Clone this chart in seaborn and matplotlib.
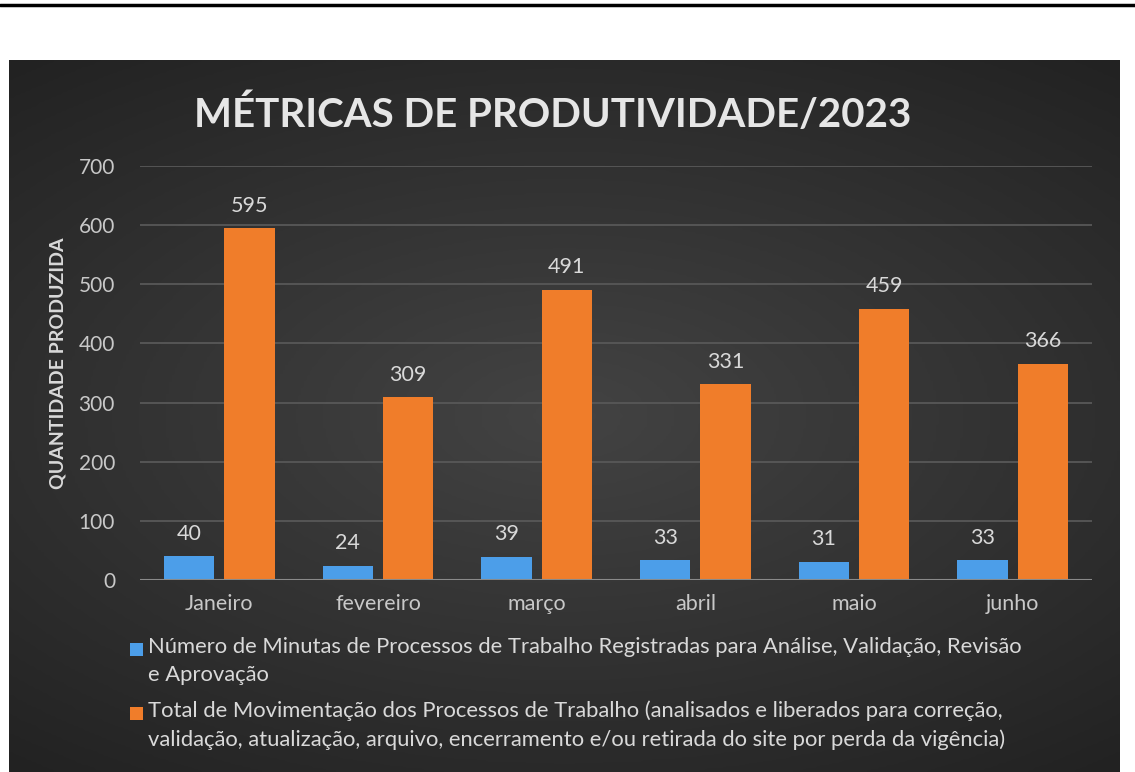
import numpy as np
import pandas as pd
import matplotlib
matplotlib.use('Agg')
import matplotlib.pyplot as plt
from matplotlib.lines import Line2D
from matplotlib.patches import Rectangle
from matplotlib.legend_handler import HandlerPatch
import seaborn as sns

# ========== DATA ==========
MESES = ['Janeiro', 'fevereiro', 'março', 'abril', 'maio', 'junho']
MINUTAS = [40, 24, 39, 33, 31, 33]
MOVIMENTACAO = [595, 309, 491, 331, 459, 366]
SERIES = [
    'Número de Minutas de Processos de Trabalho Registradas para Análise, Validação, Revisão\ne Aprovação',
    'Total de Movimentação dos Processos de Trabalho (analisados e liberados para correção,\nvalidação, atualização, arquivo, encerramento e/ou retirada do site por perda da vigência)',
]
Y_TICKS = [0, 100, 200, 300, 400, 500, 600, 700]

TITLE = 'MÉTRICAS DE PRODUTIVIDADE/2023'
YLABEL = 'QUANTIDADE PRODUZIDA'

# ========== STYLE ==========
BLUE = '#4c9ee9'
ORANGE = '#f07d2a'
TEXT = '#d9d9d9'
GRID = '#585858'


class TopSquare(HandlerPatch):
    # legend square sitting on the first line of a two-line label
    def create_artists(self, legend, orig_handle, xdescent, ydescent, width, height, fontsize, trans):
        side = 0.62 * fontsize
        p = Rectangle((-xdescent + width - side, -ydescent + 0.55 * fontsize), side, side,
                      facecolor=orig_handle.get_facecolor(), edgecolor='none', transform=trans)
        return [p]


sns.set_style('dark')
plt.rcParams['font.family'] = ['Lato', 'DejaVu Sans']

df = pd.DataFrame({
    'mes': MESES * 2,
    'valor': MINUTAS + MOVIMENTACAO,
    'serie': [SERIES[0]] * len(MESES) + [SERIES[1]] * len(MESES),
})

fig = plt.figure(figsize=(11.35, 7.72), dpi=100)
fig.patch.set_facecolor('white')

# dark panel with a soft radial gradient
panel = fig.add_axes([9 / 1135, 0, (1120 - 9) / 1135, (772 - 60) / 772], zorder=-10)
yy, xx = np.mgrid[-1:1:300j, -1:1:400j]
r = np.sqrt((xx * 0.9) ** 2 + (yy * 1.1) ** 2)
panel.imshow(-r, cmap=matplotlib.colors.LinearSegmentedColormap.from_list('bg', ['#222222', '#434343']),
             aspect='auto', extent=[0, 1, 0, 1], interpolation='bilinear')
panel.set_axis_off()

# top rule
fig.add_artist(Line2D([0, 1], [1 - 5 / 772, 1 - 5 / 772], color='black', lw=2.5))

ax = fig.add_axes([140 / 1135, 1 - 580 / 772, (1092 - 140) / 1135, (580 - 166) / 772])
ax.patch.set_alpha(0)

sns.barplot(data=df, x='mes', y='valor', hue='serie', palette=[BLUE, ORANGE],
            width=0.76, gap=0.17, saturation=1, linewidth=0, ax=ax, zorder=3)

for cont in ax.containers:
    ax.bar_label(cont, padding=9, color=TEXT, fontsize=15.5)

ax.set_ylim(0, 700)
ax.set_yticks(Y_TICKS)
ax.set_xlim(-0.5, len(MESES) - 0.5)
ax.grid(axis='y', color=GRID, lw=1.3, zorder=0)
ax.grid(axis='x', visible=False)
ax.axhline(0, color='#8a8a8a', lw=1.5, zorder=4)
for s in ax.spines.values():
    s.set_visible(False)
ax.tick_params(axis='both', length=0, colors='#c8c8c8', labelsize=15.5)
ax.tick_params(axis='y', pad=18, labelsize=15)
ax.tick_params(axis='x', pad=10)
ax.set_xlabel('')
ax.set_ylabel('')

fig.text(58 / 1135, 1 - 363 / 772, YLABEL, rotation=90, ha='center', va='center',
         color=TEXT, fontsize=14, fontweight='bold')
fig.text(553 / 1135, 1 - 114 / 772, TITLE, ha='center', va='center',
         color='#e6e6e6', fontsize=29, fontweight='bold')

handles, labels = ax.get_legend_handles_labels()
ax.get_legend().remove()
leg = fig.legend(handles, labels, loc='upper left', bbox_to_anchor=(118 / 1135, 1 - 626 / 772),
                 frameon=False, fontsize=15.8, labelcolor=TEXT, handlelength=0.65, handleheight=0.6,
                 handletextpad=0.2, labelspacing=0.7, borderpad=0,
                 handler_map={Rectangle: TopSquare()})
for t in leg.get_texts():
    t.set_linespacing(1.5)

fig.savefig('out.png', dpi=100)
